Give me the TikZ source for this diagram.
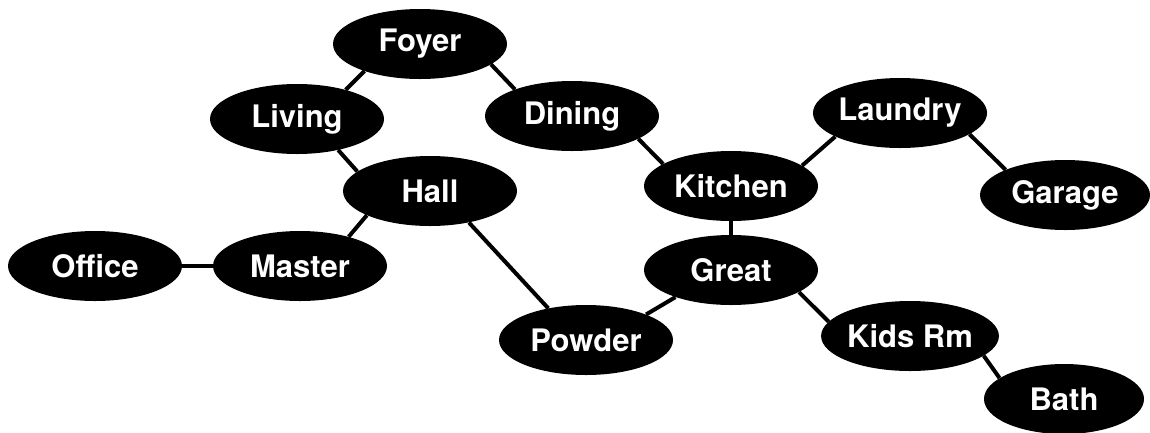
\documentclass[tikz,border=0pt]{standalone}
\usepackage{fontspec}
\setmainfont{TeX Gyre Heros}
\usetikzlibrary{shapes.geometric}

\tikzset{
    room/.style={ellipse, fill=black, text=white, inner sep=0pt,
        minimum width=174pt, minimum height=70pt,
        font=\fontsize{31}{31}\selectfont\bfseries},
    link/.style={line width=4pt}
}

\begin{document}
\begin{tikzpicture}[x=1pt, y=-1pt]
    \useasboundingbox (0,0) rectangle (1150,432);

    \node[room] (foyer)   at (420, 44)  {Foyer};
    \node[room] (living)  at (297, 119) {Living};
    \node[room] (dining)  at (572, 116) {Dining};
    \node[room] (laundry) at (900, 113) {Laundry};
    \node[room] (hall)    at (430, 191) {Hall};
    \node[room] (kitchen) at (731, 186) {Kitchen};
    \node[room, minimum width=170pt] (garage) at (1065, 195) {Garage};
    \node[room] (office)  at (95, 266)  {Office};
    \node[room] (master)  at (300, 266) {Master};
    \node[room] (great)   at (731, 270) {Great};
    \node[room] (powder)  at (586, 340) {Powder};
    \node[room] (kids)    at (910, 336) {Kids Rm};
    \node[room, minimum width=160pt] (bath) at (1064, 399) {Bath};

    % edges leave the ellipses at fixed angles
    \foreach \a/\i/\b/\j in {foyer/206/living/31, foyer/-16/dining/155,
                             living/-37/hall/165, hall/201/master/31,
                             hall/-39/powder/140, dining/-19/kitchen/162,
                             kitchen/16/laundry/200, laundry/-17/garage/157,
                             kitchen/-90/great/90, great/206/powder/23,
                             great/-18/kids/170, kids/-15/bath/162,
                             office/0/master/180} {
        \draw[link] (\a.\i) -- (\b.\j);
    }
\end{tikzpicture}
\end{document}
